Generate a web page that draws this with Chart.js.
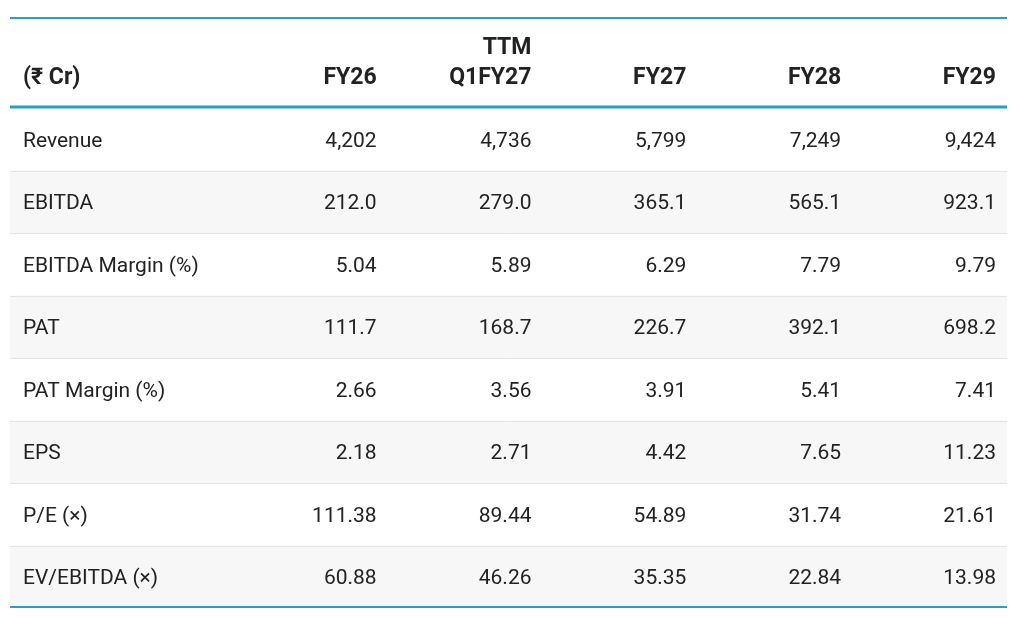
<!DOCTYPE html>
<html>
<head>
<meta charset="utf-8">
<script src="https://cdn.jsdelivr.net/npm/chart.js@4"></script>
<style>
  html, body { margin: 0; padding: 0; background: #fff; }
  #wrap { width: 1012px; height: 618px; }
</style>
</head>
<body>
<div id="wrap"><canvas id="tbl"></canvas></div>
<script>
// Table data
const unitLabel = "(₹ Cr)";
const columns = ["FY26", "Q1FY27", "FY27", "FY28", "FY29"];
const columnTops = ["", "TTM", "", "", ""];
const rowLabels = ["Revenue", "EBITDA", "EBITDA Margin (%)", "PAT", "PAT Margin (%)", "EPS", "P/E (×)", "EV/EBITDA (×)"];
const revenue = ["4,202", "4,736", "5,799", "7,249", "9,424"];
const ebitda = ["212.0", "279.0", "365.1", "565.1", "923.1"];
const ebitdaMargin = ["5.04", "5.89", "6.29", "7.79", "9.79"];
const pat = ["111.7", "168.7", "226.7", "392.1", "698.2"];
const patMargin = ["2.66", "3.56", "3.91", "5.41", "7.41"];
const eps = ["2.18", "2.71", "4.42", "7.65", "11.23"];
const pe = ["111.38", "89.44", "54.89", "31.74", "21.61"];
const evEbitda = ["60.88", "46.26", "35.35", "22.84", "13.98"];
const rows = [revenue, ebitda, ebitdaMargin, pat, patMargin, eps, pe, evEbitda];

const TEAL = "#2a9ec4";
const FONT = "Roboto, 'Noto Sans', sans-serif";

const tablePlugin = {
  id: "tablePlugin",
  afterDraw(chart) {
    const ctx = chart.ctx;
    const x = chart.scales.x, y = chart.scales.y;
    const left = 10, right = 1007;
    const bandW = x.getPixelForValue(1) - x.getPixelForValue(0);
    const colRight = (i) => x.getPixelForValue(i + 1) + bandW / 2 - 12;
    ctx.save();

    // row backgrounds and separators
    rowLabels.forEach((lab, r) => {
      const top = y.getPixelForValue(r), bot = y.getPixelForValue(r + 1);
      if (r % 2 === 1) {
        ctx.fillStyle = "#f7f7f7";
        ctx.fillRect(left, top, right - left, bot - top);
      }
      if (r > 0) {
        ctx.strokeStyle = "#e4e4e4"; ctx.lineWidth = 1;
        ctx.beginPath(); ctx.moveTo(left, Math.round(top) + 0.5); ctx.lineTo(right, Math.round(top) + 0.5); ctx.stroke();
      }
      const mid = (top + bot) / 2 + 2;
      ctx.fillStyle = "#222"; ctx.font = "21px " + FONT; ctx.textBaseline = "middle";
      ctx.textAlign = "left"; ctx.fillText(lab, 23, mid);
      ctx.textAlign = "right";
      rows[r].forEach((v, c) => ctx.fillText(v, colRight(c), mid));
    });

    // header
    ctx.fillStyle = "#222"; ctx.font = "bold 23px " + FONT; ctx.textBaseline = "middle";
    const hy = y.getPixelForValue(-0.47), hy2 = y.getPixelForValue(-0.96);
    ctx.textAlign = "left"; ctx.fillText(unitLabel, 23, hy);
    ctx.textAlign = "right";
    columns.forEach((c, i) => {
      ctx.fillText(c, colRight(i), hy);
      if (columnTops[i]) ctx.fillText(columnTops[i], colRight(i), hy2);
    });

    // teal rules
    ctx.strokeStyle = TEAL;
    const rule = (py, w) => { ctx.lineWidth = w; ctx.beginPath(); ctx.moveTo(left, py); ctx.lineTo(right, py); ctx.stroke(); };
    rule(18, 2);
    rule(y.getPixelForValue(0) - 1, 3);
    rule(y.getPixelForValue(rows.length) - 1, 2);
    ctx.restore();
  }
};

new Chart(document.getElementById("tbl"), {
  type: "bar",
  data: { labels: ["", ...columns], datasets: [] },
  options: {
    responsive: true,
    maintainAspectRatio: false,
    animation: false,
    events: [],
    layout: { padding: { left: 79, right: 4, top: 108, bottom: 10 } },
    plugins: { legend: { display: false }, tooltip: { enabled: false } },
    scales: {
      x: { type: "category", offset: true, display: false },
      y: { type: "linear", reverse: true, min: 0, max: rows.length, display: false }
    }
  },
  plugins: [tablePlugin]
});
</script>
</body>
</html>
